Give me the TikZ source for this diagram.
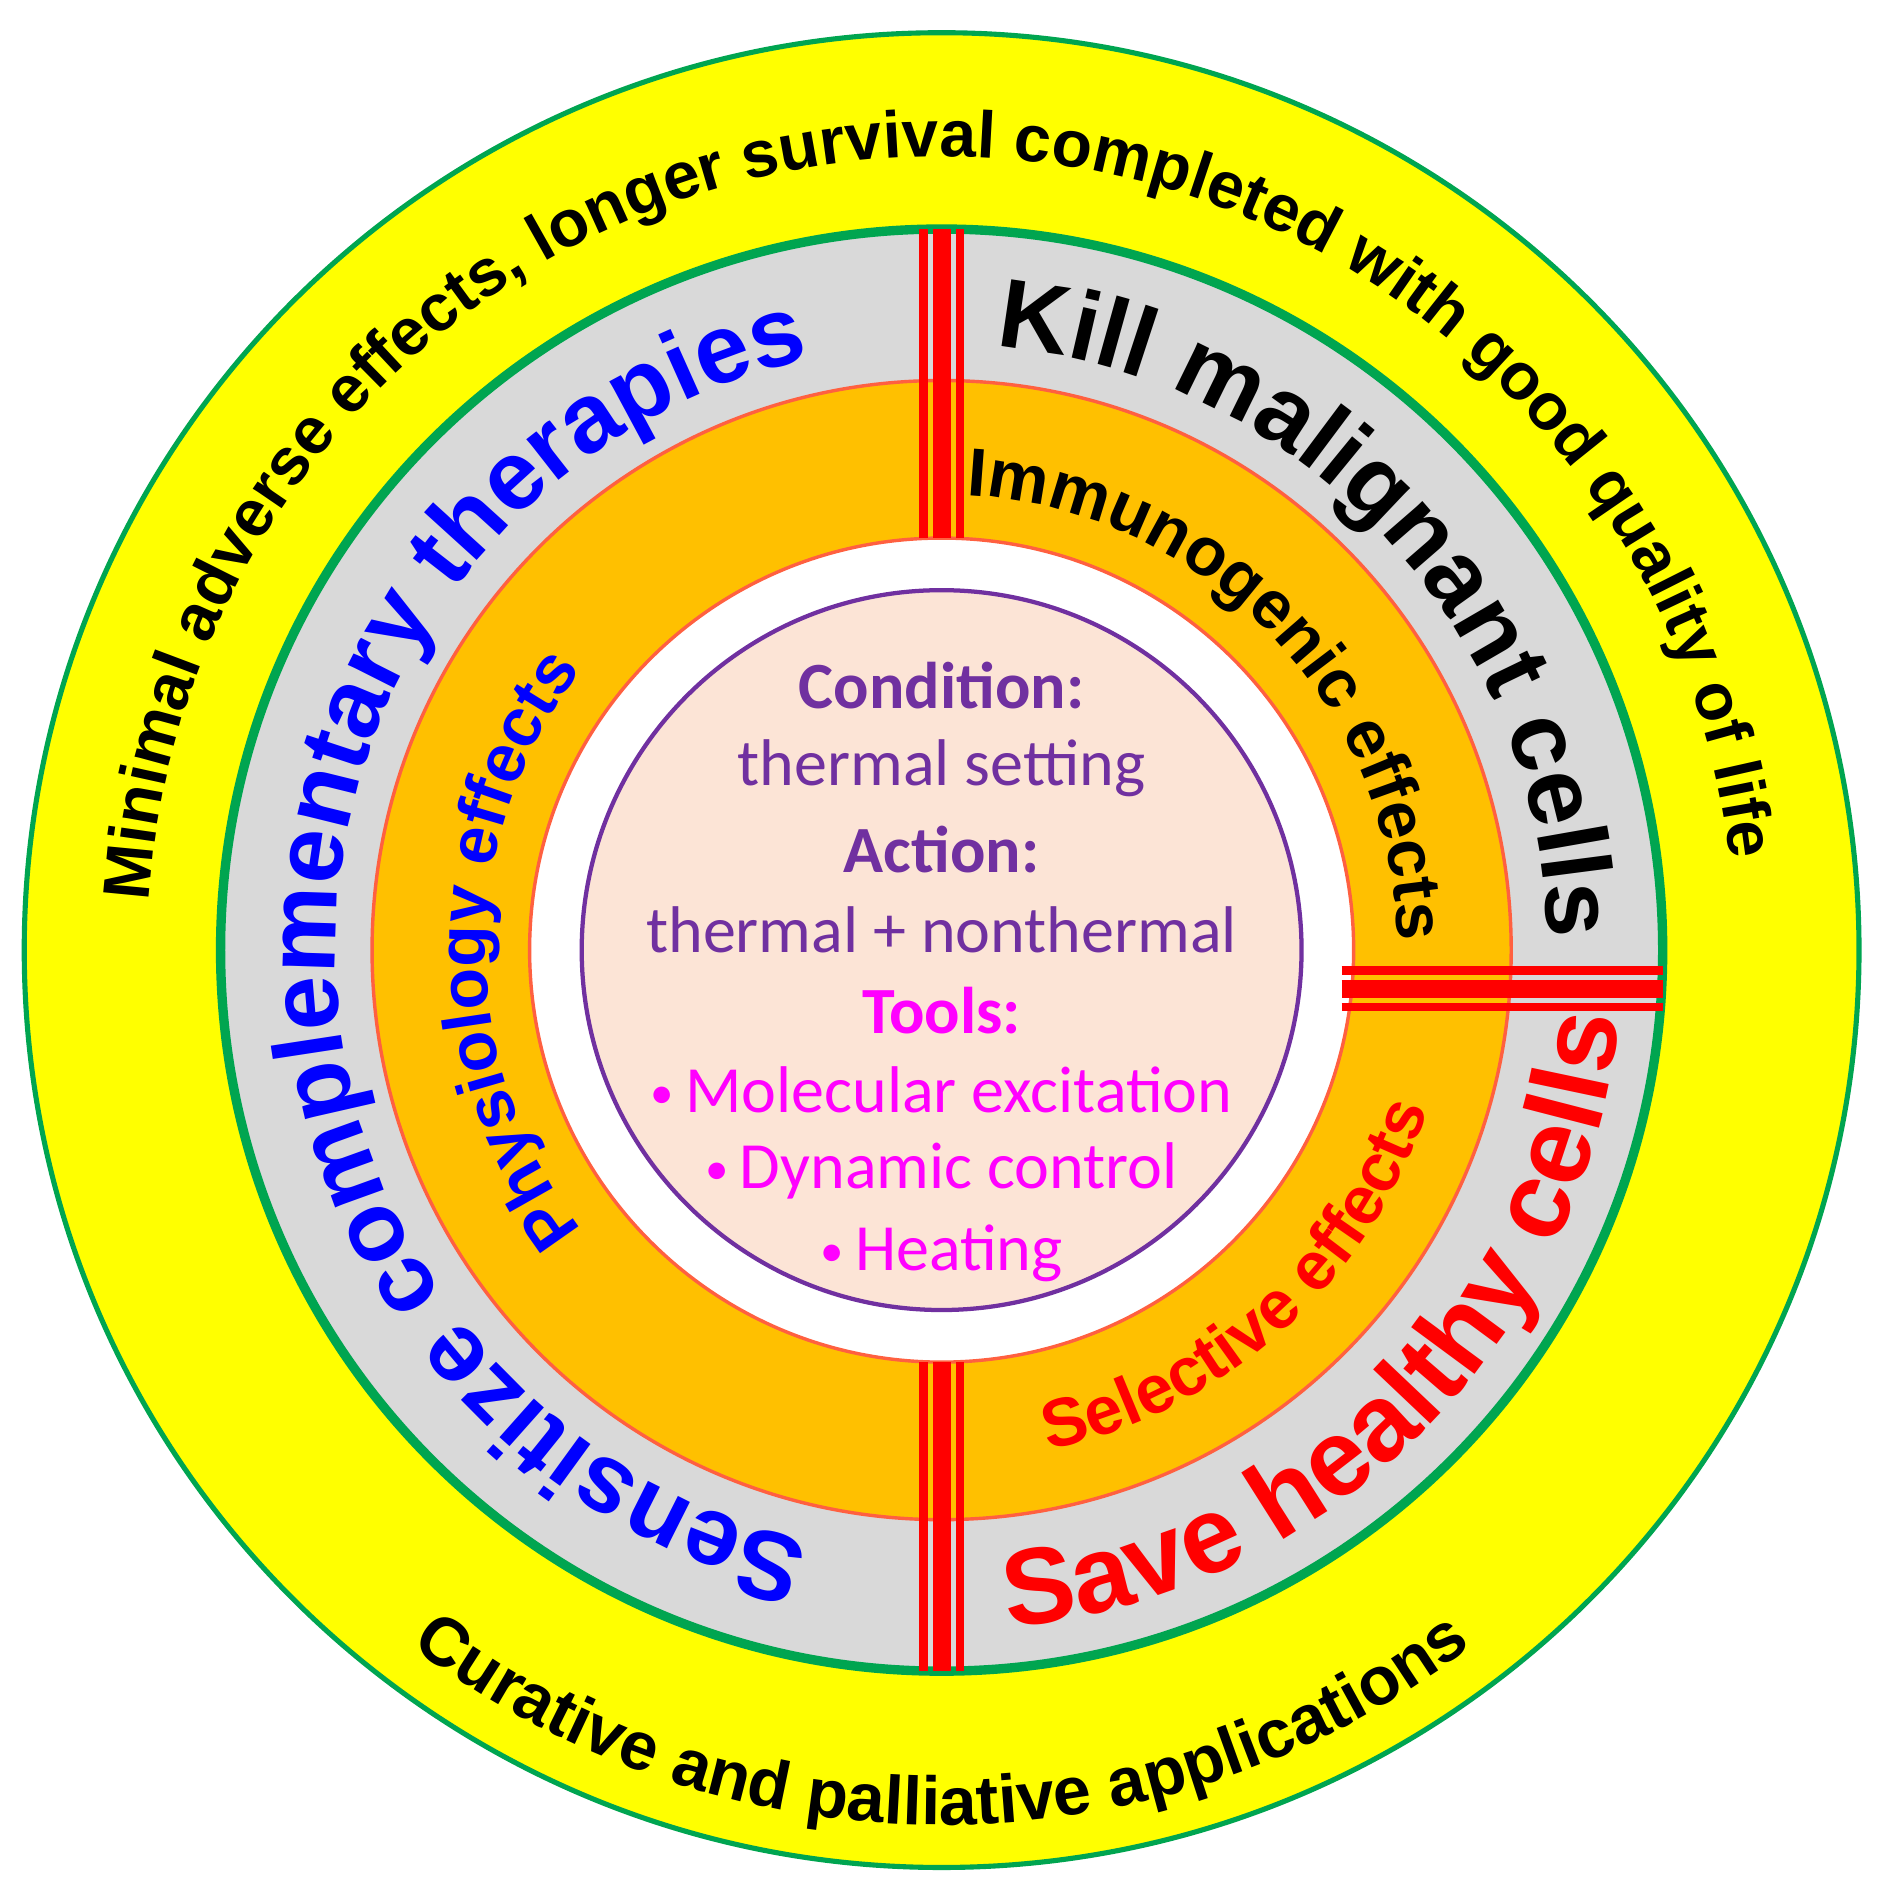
\documentclass[tikz,border=0pt]{standalone}
\usepackage{fontspec}
\setmainfont{Liberation Sans}
\newfontfamily\calib{Carlito}
\usetikzlibrary{decorations.text}
\definecolor{ygold}{HTML}{FFFF00}
\definecolor{rgreen}{HTML}{00A550}
\definecolor{rgray}{HTML}{D9D9D9}
\definecolor{rorange}{HTML}{FFC000}
\definecolor{redge}{HTML}{FF6040}
\definecolor{rpeach}{HTML}{FCE4D6}
\definecolor{rpurple}{HTML}{7030A0}
\definecolor{rmag}{HTML}{FF00FF}
\newcommand{\mybul}{{\fontsize{11}{11}\selectfont\raisebox{0.15ex}{•}}\,}
\tikzset{
  arctext/.style={decorate,decoration={text along path,text align=center,text={#1}}},
  redbar/.style={draw=red,line width=#1},
  ctext/.style={font=\calib\fontsize{15.5}{18}\selectfont},
  cbold/.style={font=\calib\bfseries\fontsize{15.5}{18}\selectfont}
}
\begin{document}
\begin{tikzpicture}
\useasboundingbox (0,0) rectangle (15.52,15.67);
\coordinate (C) at (7.77,7.83);
\fill[ygold,draw=rgreen,line width=1.2pt] (C) circle (7.57);
\fill[rgray,draw=rgreen,line width=2.2pt] (C) circle (5.95);
\fill[rorange,draw=redge,line width=0.8pt] (C) circle (4.70);
\fill[white,draw=redge,line width=0.8pt] (C) circle (3.40);
\fill[rpeach,draw=rpurple,line width=1pt] (C) circle (2.97);
% red dividers
\foreach \o/\w in {-0.15/0.07,0/0.15,0.15/0.07}{
  \draw[redbar=\w cm] ([xshift=\o cm]C)++(0,3.40) -- ++(0,2.55);
  \draw[redbar=\w cm] ([xshift=\o cm]C)++(0,-3.40) -- ++(0,-2.55);
  \draw[redbar=\w cm] ([yshift=\o cm-0.32cm]C)++(3.30,0) -- ++(2.65,0);
}
% yellow ring text
\path[arctext={|\fontsize{15.5}{18}\selectfont\bfseries|Minimal adverse effects, longer survival completed with good quality of life}]
  (C) ++(193:6.55) arc[start angle=193,end angle=-10,radius=6.55];
\path[arctext={|\fontsize{16}{18}\selectfont\bfseries|Curative and palliative applications}]
  (C) ++(215:7.22) arc[start angle=215,end angle=325,radius=7.22];
% gray ring text
\path[arctext={|\fontsize{23}{26}\selectfont\bfseries\color{blue}|Sensitize complementary therapies}]
  (C) ++(265:5.0) arc[start angle=265,end angle=95,radius=5.0];
\path[arctext={|\fontsize{23}{26}\selectfont\bfseries|Kill malignant cells}]
  (C) ++(86:5.0) arc[start angle=86,end angle=0,radius=5.0];
\path[arctext={|\fontsize{25.5}{28}\selectfont\bfseries\color{red}|Save healthy cells}]
  (C) ++(270:5.62) arc[start angle=270,end angle=360,radius=5.62];
% orange ring text
\path[arctext={|\fontsize{16}{18}\selectfont\bfseries\color{blue}|Physiology effects}]
  (C) ++(222:3.76) arc[start angle=222,end angle=138,radius=3.76];
\path[arctext={|\fontsize{16}{18}\selectfont\bfseries|Immunogenic effects}]
  (C) ++(88:3.76) arc[start angle=88,end angle=0,radius=3.76];
\path[arctext={|\fontsize{16}{18}\selectfont\bfseries\color{red}|Selective effects}]
  (C) ++(272:4.22) arc[start angle=272,end angle=352,radius=4.22];
% centre text
\node[cbold,text=rpurple] (t1) at ([yshift=2.18cm]C) {Condition:};
\node[ctext,text=rpurple] (t2) at ([yshift=1.50cm]C) {thermal setting};
\node[cbold,text=rpurple] (t3) at ([yshift=0.83cm]C) {Action:};
\node[ctext,text=rpurple] (t4) at ([yshift=0.17cm]C) {thermal + nonthermal};
\node[cbold,text=rmag] (t5) at ([yshift=-0.50cm]C) {Tools:};
\node[ctext,text=rmag] (t6) at ([yshift=-1.15cm]C) {\mybul Molecular excitation};
\node[ctext,text=rmag] (t7) at ([yshift=-1.82cm]C) {\mybul Dynamic control};
\node[ctext,text=rmag] (t8) at ([yshift=-2.50cm]C) {\mybul Heating};
\end{tikzpicture}
\end{document}
